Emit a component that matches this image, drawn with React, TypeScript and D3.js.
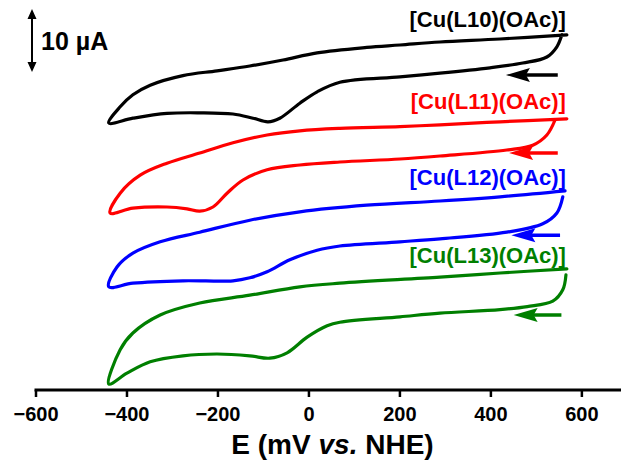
import React, { useEffect, useRef } from 'react';
import * as d3 from 'd3';

// Potential (mV vs. NHE) and current (µA, vertically offset for display).
// Each trace starts at the top-right end, runs left along the upper branch, then back right along the lower branch.
const cu10E = [567, 420, 288, 200, 127, 18, -57, -130, -202, -277, -349, -387, -415, -440,
  -387, -312, -240, -167, -123, -90, -64, -20, 18, 68, 200, 288, 398, 470, 523, 545, 556];
const cu10I = [59.2, 58.5, 58.0, 57.5, 57.1, 56.2, 55.0, 54.0, 53.2, 52.4, 50.8, 49.2, 47.2, 44.5,
  45.3, 46.1, 46.2, 46.0, 45.3, 44.7, 45.3, 47.8, 49.7, 51.3, 52.2, 52.8, 53.7, 54.5, 55.5, 57.2, 59.2];

const cu11E = [567, 420, 288, 200, 68, -20, -92, -167, -240, -312, -371, -415, -437,
  -387, -312, -268, -240, -211, -180, -145, -92, -20, 68, 200, 288, 435, 492, 523, 541];
const cu11I = [45.2, 44.7, 44.2, 43.9, 43.6, 43.2, 42.5, 41.2, 39.5, 37.8, 35.8, 32.8, 29.5,
  30.3, 30.5, 30.2, 29.8, 30.5, 32.8, 35.0, 36.7, 37.5, 38.0, 38.5, 39.0, 40.0, 40.8, 42.5, 45.0];

const cu12E = [563, 420, 288, 127, -20, -130, -240, -327, -387, -422, -440,
  -387, -277, -167, -130, -92, -42, 18, 68, 200, 288, 435, 514, 545, 558];
const cu12I = [33.2, 32.2, 31.5, 30.8, 29.7, 28.3, 26.3, 24.7, 22.8, 20.5, 17.2,
  17.8, 18.2, 18.2, 18.7, 19.7, 21.7, 23.3, 24.0, 24.7, 25.2, 26.3, 27.7, 29.5, 32.2];

const cu13E = [567, 420, 288, 68, -20, -130, -240, -327, -387, -415, -440,
  -400, -349, -277, -202, -130, -86, -48, -4, 40, 68, 200, 288, 420, 480, 536, 558, 565];
const cu13I = [20.2, 19.5, 18.8, 17.8, 17.2, 15.8, 14.5, 12.5, 9.5, 6.7, 1.0,
  2.8, 4.7, 5.7, 6.0, 5.7, 5.3, 6.2, 8.8, 10.7, 11.3, 12.2, 12.8, 13.4, 13.9, 14.8, 16.7, 19.2];

const labels = ['[Cu(L10)(OAc)]', '[Cu(L11)(OAc)]', '[Cu(L12)(OAc)]', '[Cu(L13)(OAc)]'];
const colors = ['#000000', '#ff0000', '#0000ff', '#007f00'];
const labelI = [60.5, 46.8, 34.2, 21.2];
// scan direction arrows: from E0 to E1 at current arrowI
const arrowE0 = [547, 547, 552, 555];
const arrowE1 = [433, 440, 445, 450];
const arrowI = [52.5, 39.5, 25.8, 12.5];

const xTicks = [-600, -400, -200, 0, 200, 400, 600];
const scaleBarI = [53, 63.5]; // 10 µA scale bar, in display units

const W = 621;
const H = 460;
const FONT = "'Liberation Sans', Arial, Helvetica, sans-serif";

export default function App() {
  const svgRef = useRef<SVGSVGElement>(null);

  useEffect(() => {
    if (!svgRef.current) return;
    const svg = d3.select(svgRef.current);
    svg.selectAll('*').remove();

    const x = d3.scaleLinear().domain([-600, 686]).range([36, 621]);
    const y = d3.scaleLinear().domain([0, 65]).range([390, 0]);

    const traces = [
      { e: cu10E, i: cu10I },
      { e: cu11E, i: cu11I },
      { e: cu12E, i: cu12I },
      { e: cu13E, i: cu13I },
    ];

    const line = d3.line<[number, number]>()
      .x(d => x(d[0]))
      .y(d => y(d[1]))
      .curve(d3.curveCatmullRom.alpha(0.5));

    traces.forEach((t, k) => {
      const pts = t.e.map((e, j) => [e, t.i[j]] as [number, number]);
      svg.append('path')
        .attr('d', line(pts) as string)
        .attr('fill', 'none')
        .attr('stroke', colors[k])
        .attr('stroke-width', 3.2)
        .attr('stroke-linejoin', 'round')
        .attr('stroke-linecap', 'round');

      // label
      svg.append('text')
        .attr('x', x(565))
        .attr('y', y(labelI[k]))
        .attr('text-anchor', 'end')
        .style('font-family', FONT)
        .style('font-size', '22px')
        .style('font-weight', 'bold')
        .style('fill', colors[k])
        .text(labels[k]);

      // arrow
      const ax0 = x(arrowE0[k]);
      const ax1 = x(arrowE1[k]);
      const ay = y(arrowI[k]);
      svg.append('line')
        .attr('x1', ax0).attr('y1', ay)
        .attr('x2', ax1 + 14).attr('y2', ay)
        .attr('stroke', colors[k])
        .attr('stroke-width', 3.5);
      svg.append('path')
        .attr('d', `M${ax1},${ay} L${ax1 + 24},${ay - 7} L${ax1 + 20},${ay} L${ax1 + 24},${ay + 7} Z`)
        .attr('fill', colors[k]);
    });

    // x axis
    const axisY = y(0);
    svg.append('line')
      .attr('x1', x(-600) - 1.5).attr('x2', W)
      .attr('y1', axisY).attr('y2', axisY)
      .attr('stroke', '#000')
      .attr('stroke-width', 3);

    xTicks.forEach(t => {
      svg.append('line')
        .attr('x1', x(t)).attr('x2', x(t))
        .attr('y1', axisY).attr('y2', axisY + 7)
        .attr('stroke', '#000')
        .attr('stroke-width', 2.5);
      svg.append('text')
        .attr('x', x(t))
        .attr('y', axisY + 31)
        .attr('text-anchor', 'middle')
        .style('font-family', FONT)
        .style('font-size', '20px')
        .style('font-weight', 'bold')
        .text(t < 0 ? `\u2212${Math.abs(t)}` : `${t}`);
    });

    const title = svg.append('text')
      .attr('x', (x(-600) + W) / 2 + 4)
      .attr('y', 454)
      .attr('text-anchor', 'middle')
      .style('font-family', FONT)
      .style('font-size', '28px')
      .style('font-weight', 'bold');
    title.append('tspan').text('E (mV ');
    title.append('tspan').style('font-style', 'italic').text('vs.');
    title.append('tspan').text(' NHE)');

    // 10 µA scale bar
    const sbx = 32;
    const sy0 = y(scaleBarI[1]);
    const sy1 = y(scaleBarI[0]);
    svg.append('line')
      .attr('x1', sbx).attr('x2', sbx)
      .attr('y1', sy0 + 5).attr('y2', sy1 - 5)
      .attr('stroke', '#000')
      .attr('stroke-width', 2);
    svg.append('path')
      .attr('d', `M${sbx},${sy0} L${sbx - 4.5},${sy0 + 10} L${sbx + 4.5},${sy0 + 10} Z M${sbx},${sy1} L${sbx - 4.5},${sy1 - 10} L${sbx + 4.5},${sy1 - 10} Z`)
      .attr('fill', '#000');
    svg.append('text')
      .attr('x', 41)
      .attr('y', (sy0 + sy1) / 2 + 9)
      .style('font-family', FONT)
      .style('font-size', '25px')
      .style('font-weight', 'bold')
      .text('10 \u00b5A');
  }, []);

  return (
    <svg
      ref={svgRef}
      width={W}
      height={H}
      style={{ position: 'absolute', left: 0, top: 0, background: '#fff' }}
    />
  );
}
